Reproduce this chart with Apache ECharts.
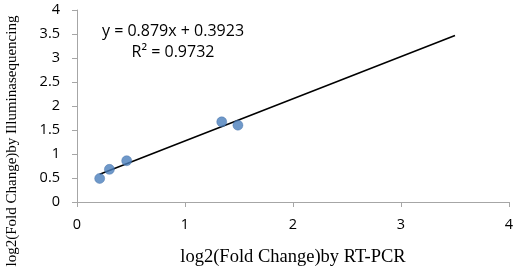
<!DOCTYPE html>
<html>
<head>
<meta charset="utf-8">
<script src="https://cdn.jsdelivr.net/npm/echarts@6/dist/echarts.min.js"></script>
<style>
  html, body { margin: 0; padding: 0; background: #fff; }
  #chart { width: 517px; height: 270px; }
</style>
</head>
<body>
<div id="chart"></div>
<script>
// RT-PCR vs Illumina log2 fold change
const rtPcr = [0.21, 0.30, 0.46, 1.34, 1.49];
const illumina = [0.49, 0.68, 0.86, 1.67, 1.60];
// trendline endpoints
const trendX = [0.21, 3.5];
const trendY = [0.577, 3.469];
const xTicks = [0, 1, 2, 3, 4];
const equationLines = ['y = 0.879x + 0.3923', 'R² = 0.9732'];
const yTitle = 'log2(Fold Change)by Illuminasequencing';

const chart = echarts.init(document.getElementById('chart'));

const axisColor = '#a6a6a6';

const option = {
    animation: false,
    grid: { left: 77, right: 8, top: 10, bottom: 68, outerBoundsMode: 'none', containLabel: false },
    xAxis: {
        type: 'value',
        min: xTicks[0],
        max: xTicks[xTicks.length - 1],
        interval: 1,
        name: 'log2(Fold Change)by RT-PCR',
        nameLocation: 'middle',
        nameGap: 46,
        nameTextStyle: { fontFamily: 'Liberation Serif', fontSize: 18.5, color: '#000' },
        axisLine: { show: true, lineStyle: { color: axisColor, width: 1 } },
        axisTick: { show: true, length: 5, lineStyle: { color: axisColor } },
        axisLabel: { margin: 15, fontFamily: 'Open Sans', fontSize: 14.5, color: '#000' },
        splitLine: { show: false }
    },
    yAxis: {
        type: 'value',
        min: 0,
        max: 4,
        interval: 0.5,
        axisLine: { show: true, lineStyle: { color: axisColor, width: 1 } },
        axisTick: { show: true, length: 5, lineStyle: { color: axisColor } },
        axisLabel: { margin: 17, fontFamily: 'Open Sans', fontSize: 14.5, color: '#000' },
        splitLine: { show: false }
    },
    graphic: [{
        type: 'text',
        x: 173,
        y: 21,
        style: {
            text: equationLines.join('\n'),
            fontFamily: 'Open Sans',
            fontSize: 16,
            lineHeight: 21,
            align: 'center',
            fill: '#000'
        }
    }, {
        // y title sits lower than the plot centre in the original
        type: 'text',
        x: 12,
        y: 141,
        rotation: Math.PI / 2,
        style: {
            text: yTitle,
            fontFamily: 'Liberation Serif',
            fontSize: 15,
            align: 'center',
            verticalAlign: 'middle',
            fill: '#000'
        }
    }],
    series: [{
        type: 'line',
        data: trendX.map((x, i) => [x, trendY[i]]),
        symbol: 'none',
        lineStyle: { color: '#000', width: 1.5 },
        z: 2
    }, {
        type: 'scatter',
        data: rtPcr.map((x, i) => [x, illumina[i]]),
        symbolSize: 10,
        itemStyle: { color: '#4a7ebb', borderColor: '#3d6aa3', borderWidth: 0.5 },
        z: 3
    }]
};

chart.setOption(option);
</script>
</body>
</html>
